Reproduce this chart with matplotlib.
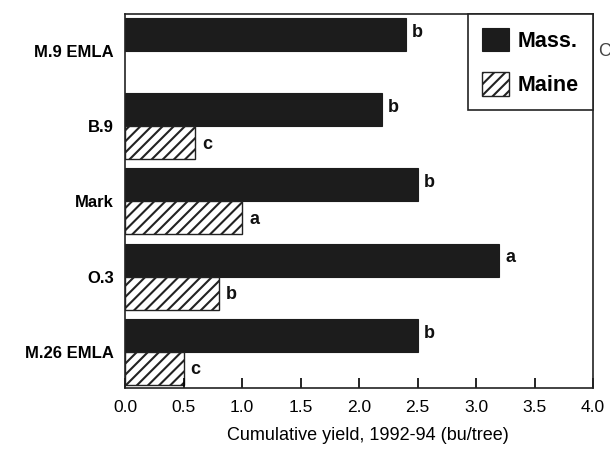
import numpy as np
import matplotlib
matplotlib.use("Agg")
import matplotlib.pyplot as plt

plt.rcParams['font.family'] = ['Liberation Sans', 'DejaVu Sans']
plt.rcParams['hatch.linewidth'] = 1.5

categories = ["M.9 EMLA", "B.9", "Mark", "O.3", "M.26 EMLA"]
mass_values = [2.4, 2.2, 2.5, 3.2, 2.5]
maine_values = [np.nan, 0.6, 1.0, 0.8, 0.5]
mass_letters = ["b", "b", "b", "a", "b"]
maine_letters = ["", "c", "a", "b", "c"]
xticks = [0.0, 0.5, 1.0, 1.5, 2.0, 2.5, 3.0, 3.5, 4.0]

fig = plt.figure(figsize=(6.1, 4.5), dpi=100)
ax = fig.add_axes([125/610, 1-388/450, (593-125)/610, (388-14)/450])

h = 0.44
y = np.arange(len(categories))
ax.barh(y - h/2, mass_values, height=h, color='#1c1c1c', edgecolor='#1c1c1c',
        linewidth=0.8, label='Mass.')
ax.barh(y + h/2, maine_values, height=h, color='white', edgecolor='#222222',
        hatch='///', linewidth=1.0, label='Maine')

for yi, v, t in zip(y, mass_values, mass_letters):
    ax.text(v + 0.05, yi - h/2 - 0.03, t, va='center', ha='left',
            fontsize=13, fontweight='bold', color='#111')
for yi, v, t in zip(y, maine_values, maine_letters):
    if t and not np.isnan(v):
        ax.text(v + 0.06, yi + h/2 + 0.02, t, va='center', ha='left',
                fontsize=13, fontweight='bold', color='#111')

ax.set_xlim(0, 4.0)
ax.set_ylim(4.48, -0.49)
ax.set_yticks(y)
ax.set_yticklabels(categories, fontsize=12, fontweight='bold')
ax.set_xticks(xticks)
ax.set_xticklabels([f"{v:.1f}" for v in xticks], fontsize=12.5)
ax.tick_params(axis='y', length=0, pad=8)
ax.tick_params(axis='x', direction='in', length=7, width=1.2, pad=9, top=False)
ax.set_xlabel("Cumulative yield, 1992-94 (bu/tree)", fontsize=13, labelpad=9)
ax.xaxis.set_label_coords(0.52, -0.105)
for s in ax.spines.values():
    s.set_linewidth(1.2)
    s.set_color('#222')

leg = ax.legend(loc='upper right', bbox_to_anchor=(1, 1), borderaxespad=0,
                fancybox=False, framealpha=1, edgecolor='#222',
                prop={'family': 'Liberation Sans', 'weight': 'bold', 'size': 15.5},
                handlelength=1.25, handleheight=1.3, handletextpad=0.4,
                labelspacing=0.95, borderpad=0.65)
leg.get_frame().set_linewidth(1.2)

fig.text(598/610, 1-52/450, "C", va='center', ha='left', fontsize=13, color='#444')

fig.savefig("out.png", dpi=100)
